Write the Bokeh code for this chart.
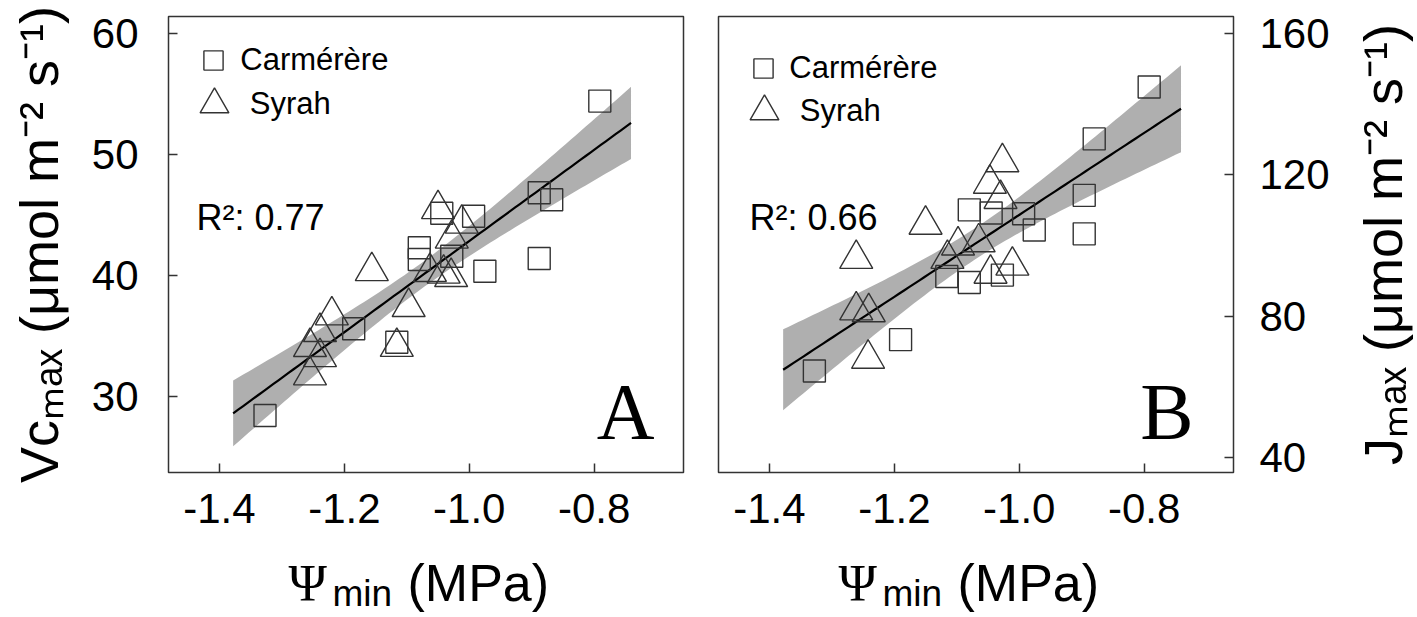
import numpy as np
from bokeh.plotting import figure
from bokeh.layouts import row, column
from bokeh.models import (Label, Legend, LegendItem, Range1d, FixedTicker,
                          PrintfTickFormatter)
from bokeh.embed import file_html
from bokeh.resources import INLINE

# ---------------- data ----------------
# Panel A: Vcmax vs Psi_min
a_carm_x = [-0.791, -0.888, -0.868, -0.888, -0.975, -0.993, -1.044, -1.080, -1.080, -1.028, -1.185, -1.116, -1.327]
a_carm_y = [54.43, 46.85, 46.27, 41.41, 40.36, 44.91, 45.16, 42.30, 41.33, 41.60, 35.60, 34.49, 28.43]
a_syr_x = [-1.050, -1.012, -1.028, -1.063, -1.041, -1.029, -1.156, -1.097, -1.220, -1.239, -1.255, -1.239, -1.255, -1.116]
a_syr_y = [45.50, 44.30, 43.06, 40.30, 40.16, 39.88, 40.37, 37.40, 36.71, 35.33, 34.09, 33.26, 31.75, 34.10]
# Panel B: Jmax vs Psi_min
b_carm_x = [-0.792, -0.880, -0.896, -0.896, -1.080, -1.045, -0.993, -0.976, -1.116, -1.080, -1.027, -1.190, -1.328]
b_carm_y = [144.9, 130.2, 114.2, 103.3, 110.1, 109.2, 109.0, 104.4, 91.2, 89.5, 91.6, 73.3, 64.4]
b_syr_x = [-1.027, -1.047, -1.030, -1.150, -1.065, -1.098, -1.115, -1.261, -1.011, -1.046, -1.261, -1.241, -1.242]
b_syr_y = [123.6, 117.5, 113.2, 105.9, 100.9, 100.0, 96.2, 96.2, 94.3, 92.0, 81.6, 81.1, 67.9]

r2_a = "0.77"
r2_b = "0.66"
x_ticks = [-1.4, -1.2, -1.0, -0.8]
a_y_ticks = [30, 40, 50, 60]
b_y_ticks = [40, 80, 120, 160]
fit_x_span = [-1.378, -0.741]
T_CRIT = 2.06
series_names = ["Carmérère", "Syrah"]
a_y_title = "Vcₘₐₓ (μmol m⁻² s⁻¹)"
b_y_title = "Jₘₐₓ (μmol m⁻² s⁻¹)"

# ---------------- helpers ----------------
SANS = "Liberation Sans"
SERIF = "Liberation Serif"
EDGE = "#333333"
BASE_K = 0.355          # em-middle above the alphabetic baseline (fraction of font size)
YT_SIZE = "54px"        # vertical axis titles

H1 = 550                # height of the plot row
FT, FB = 16, 472        # frame top / bottom (page px)


def fit_band(xs, ys, span, n=80):
    x = np.asarray(xs, float)
    y = np.asarray(ys, float)
    b1, b0 = np.polyfit(x, y, 1)
    xg = np.linspace(span[0], span[1], n)
    yhat = b0 + b1 * xg
    res = y - (b0 + b1 * x)
    s = np.sqrt(np.sum(res ** 2) / (len(x) - 2))
    se = s * np.sqrt(1.0 / len(x) + (xg - x.mean()) ** 2 / np.sum((x - x.mean()) ** 2))
    return xg, yhat, yhat - T_CRIT * se, yhat + T_CRIT * se


def style_title(ax, text, standoff):
    ax.axis_label = text
    ax.axis_label_standoff = standoff
    ax.axis_label_text_font = SANS
    ax.axis_label_text_font_size = YT_SIZE
    ax.axis_label_text_font_style = "normal"
    ax.axis_label_text_color = "black"


def make_panel(width, ylo, yhi, border_l, border_r, yloc):
    p = figure(width=width, height=H1, x_range=Range1d(-1.4815, -0.657),
               y_range=Range1d(ylo, yhi), output_backend="svg", toolbar_location=None,
               title=None, y_axis_location=yloc,
               min_border_left=border_l, min_border_right=border_r,
               min_border_top=FT, min_border_bottom=H1 - FB)
    p.xgrid.visible = False
    p.ygrid.visible = False
    p.outline_line_color = EDGE
    p.outline_line_width = 1.5
    p.background_fill_color = "white"
    p.border_fill_color = "white"
    for ax in [p.xaxis[0], p.yaxis[0]]:
        ax.axis_line_color = None
        ax.major_tick_in = 9
        ax.major_tick_out = 0
        ax.major_tick_line_color = EDGE
        ax.major_tick_line_width = 1.5
        ax.minor_tick_line_color = None
        ax.major_label_text_font = SANS
        ax.major_label_text_font_size = "42px"
        ax.major_label_text_color = "black"
    p.xaxis[0].ticker = FixedTicker(ticks=x_ticks)
    p.xaxis[0].formatter = PrintfTickFormatter(format="%.1f")
    p.xaxis[0].major_label_standoff = 21
    p.yaxis[0].formatter = PrintfTickFormatter(format="%d")
    return p


def strip(width, height, **kw):
    s = figure(width=width, height=height, x_range=Range1d(0, 1), y_range=Range1d(0, 1),
               output_backend="svg", toolbar_location=None, title=None,
               x_axis_location=None, **kw)
    s.outline_line_color = None
    s.xgrid.visible = False
    s.ygrid.visible = False
    s.background_fill_color = "white"
    s.border_fill_color = "white"
    return s


def hlab(p, org_x, org_bottom, px, base_y, text, size, font=SANS, align="left"):
    """horizontal text: left/right x and baseline given in page px."""
    p.add_layout(Label(x=px - org_x, y=org_bottom - (base_y - BASE_K * size),
                       x_units="screen", y_units="screen", text=text,
                       text_font=font, text_font_size=f"{size}px", text_color="black",
                       text_align=align, text_baseline="alphabetic"))


def draw_data(p, cx, cy, sx, sy):
    xg, yh, lo, hi = fit_band(cx + sx, cy + sy, fit_x_span)
    p.varea(x=xg, y1=lo, y2=hi, fill_color="#afafaf")
    p.line(xg, yh, line_color="black", line_width=2.2)
    rs = p.scatter(cx, cy, marker="square", size=22, fill_alpha=0,
                   line_color=EDGE, line_width=1.4)
    rt = p.scatter(sx, sy, marker="triangle", size=33, fill_alpha=0,
                   line_color=EDGE, line_width=1.4)
    return rs, rt


def legends(p, rs, rt, sq_c, tri_c, frame_left, text_x):
    for rend, name, (cxp, cyp), ksize in [(rs, series_names[0], sq_c, 19),
                                          (rt, series_names[1], tri_c, 29)]:
        g = ksize / 0.4
        left = cxp - g / 2
        bottom = cyp + g / 2
        leg = Legend(items=[LegendItem(label=name, renderers=[rend])],
                     location=(left - frame_left, FB - bottom),
                     glyph_width=int(round(g)), glyph_height=int(round(g)),
                     label_standoff=int(round(text_x - (left + g))),
                     padding=0, margin=0, spacing=0, border_line_color=None,
                     background_fill_alpha=0, label_text_font=SANS,
                     label_text_font_size="31px", label_text_color="black")
        p.add_layout(leg)


# ---------------- panel A ----------------
pA = make_panel(700, 23.71, 61.43, 168, 17, "left")
pA.yaxis[0].ticker = FixedTicker(ticks=a_y_ticks)
pA.yaxis[0].major_label_standoff = 30
style_title(pA.yaxis[0], a_y_title, 20)
rsA, rtA = draw_data(pA, a_carm_x, a_carm_y, a_syr_x, a_syr_y)
legends(pA, rsA, rtA, (213, 60.5), (214, 104), 168, 240)
hlab(pA, 168, FB, 196, 230, "R²: " + r2_a, 36)
hlab(pA, 168, FB, 654, 440, "A", 80, font=SERIF, align="right")

# ---------------- panel B ----------------
pB = make_panel(640, 35.65, 164.9, 18, 107, "right")
pB.yaxis[0].ticker = FixedTicker(ticks=b_y_ticks)
pB.yaxis[0].major_label_standoff = 26
rsB, rtB = draw_data(pB, b_carm_x, b_carm_y, b_syr_x, b_syr_y)
legends(pB, rsB, rtB, (763, 68), (764, 111), 718, 789)
hlab(pB, 718, FB, 749, 230, "R²: " + r2_b, 36)
hlab(pB, 718, FB, 1193, 440, "B", 80, font=SERIF, align="right")

# ---------------- right title: tick-less left axis of a narrow strip ----------------
R = strip(75, H1, y_axis_location="left", min_border_left=72, min_border_right=0,
          min_border_top=FT, min_border_bottom=H1 - FB)
rax = R.yaxis[0]
rax.ticker = FixedTicker(ticks=[])
rax.minor_tick_line_color = None
rax.major_tick_line_color = None
rax.axis_line_color = None
style_title(rax, b_y_title, 0)

# ---------------- x-axis titles (text strip) ----------------
S_H = 65
S = strip(1415, S_H, y_axis_location=None, min_border=0)
S_BOTTOM = H1 + S_H
for off in [0, 550]:
    hlab(S, 0, S_BOTTOM, 288 + off, 601, "Ψ", 52, font=SERIF)
    hlab(S, 0, S_BOTTOM, 332 + off, 606, "min", 37)
    hlab(S, 0, S_BOTTOM, 407 + off, 601, "(MPa)", 52)

layout = column(row(pA, pB, R), S)
open("out.html", "w").write(file_html(layout, INLINE))
